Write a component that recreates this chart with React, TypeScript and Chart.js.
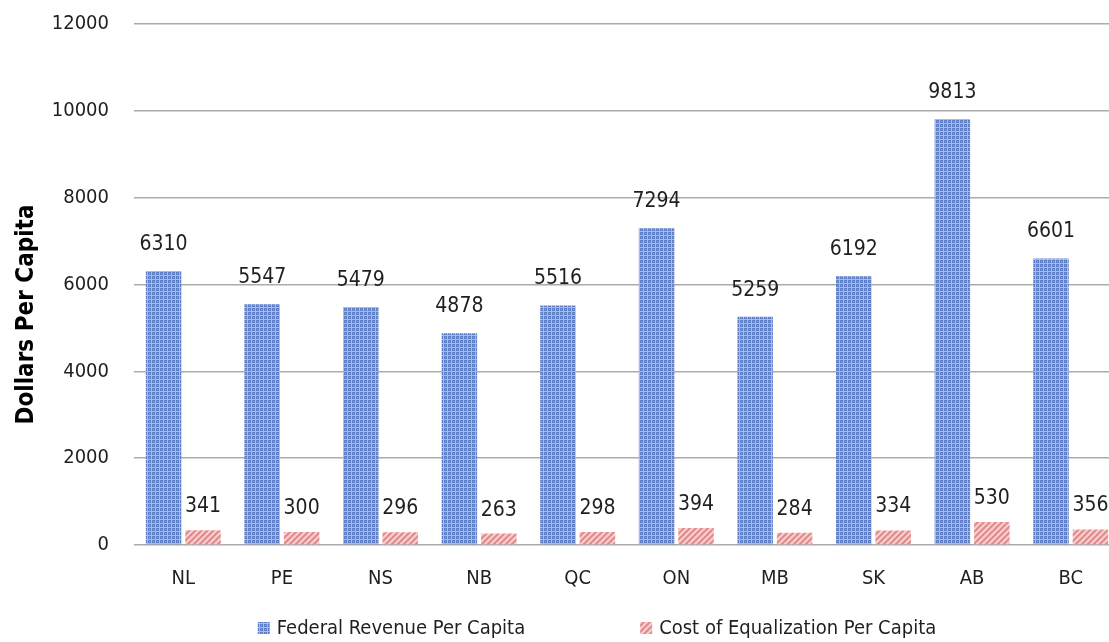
import React, { useEffect, useRef } from "react";
import { Chart, registerables } from "chart.js";

Chart.register(...registerables);

const provinces = ["NL", "PE", "NS", "NB", "QC", "ON", "MB", "SK", "AB", "BC"];
const federalRevenue = [6310, 5547, 5479, 4878, 5516, 7294, 5259, 6192, 9813, 6601];
const equalizationCost = [341, 300, 296, 263, 298, 394, 284, 334, 530, 356];
const seriesNames = ["Federal Revenue Per Capita", "Cost of Equalization Per Capita"];
const yTitle = "Dollars Per Capita";

const FONT = "'Liberation Sans Narrow', 'DejaVu Sans Condensed', 'Open Sans', sans-serif";
const TEXT = "#1f1f1f";

function makeBluePattern(): CanvasPattern | string {
  const c = document.createElement("canvas");
  c.width = 4;
  c.height = 4;
  const g = c.getContext("2d");
  if (!g) return "#6f86c8";
  g.fillStyle = "#c8b0d2";
  g.fillRect(0, 0, 4, 4);
  g.fillStyle = "#5e7fc8";
  g.fillRect(0, 0, 3, 3);
  g.fillStyle = "#8fa2d4";
  g.fillRect(1, 1, 1, 1);
  return g.createPattern(c, "repeat") || "#6f86c8";
}

function makeRedPattern(): CanvasPattern | string {
  const c = document.createElement("canvas");
  const s = 6;
  c.width = s;
  c.height = s;
  const g = c.getContext("2d");
  if (!g) return "#eaa6a6";
  g.fillStyle = "#f6d0d0";
  g.fillRect(0, 0, s, s);
  g.strokeStyle = "#df8a8a";
  g.lineWidth = 2;
  for (let k = -1; k <= 1; k++) {
    g.beginPath();
    g.moveTo(k * s - 1, s + 1);
    g.lineTo(k * s + s + 1, -1);
    g.stroke();
  }
  return g.createPattern(c, "repeat") || "#eaa6a6";
}

const valueLabels = {
  id: "valueLabels",
  afterDatasetsDraw(chart: any) {
    const ctx = chart.ctx;
    ctx.save();
    ctx.font = `21px ${FONT}`;
    ctx.fillStyle = TEXT;
    ctx.textAlign = "center";
    ctx.textBaseline = "bottom";
    chart.data.datasets.forEach((ds: any, di: number) => {
      const meta = chart.getDatasetMeta(di);
      meta.data.forEach((el: any, i: number) => {
        ctx.fillText(String(ds.data[i]), el.x, el.y - (di === 0 ? 16 : 13));
      });
    });
    ctx.restore();
  },
};

const axisTitle = {
  id: "axisTitle",
  afterDraw(chart: any) {
    const ctx = chart.ctx;
    const a = chart.chartArea;
    ctx.save();
    ctx.translate(27, (a.top + a.bottom) / 2 + 30);
    ctx.rotate(-Math.PI / 2);
    ctx.font = `bold 24px ${FONT}`;
    ctx.fillStyle = "#000";
    ctx.textAlign = "center";
    ctx.textBaseline = "middle";
    ctx.fillText(yTitle, 0, 0);
    ctx.restore();
  },
};

const bottomLegend = {
  id: "bottomLegend",
  afterDraw(chart: any) {
    const ctx = chart.ctx;
    ctx.save();
    ctx.font = `20px ${FONT}`;
    ctx.textBaseline = "middle";
    ctx.textAlign = "left";
    const box = 12;
    const boxGap = 7;
    const itemGap = 115;
    const items = chart.data.datasets.map((ds: any) => ({
      label: ds.label,
      fill: ds.backgroundColor,
      w: box + boxGap + ctx.measureText(ds.label).width,
    }));
    const total = items.reduce((a: number, it: any) => a + it.w, 0) + itemGap * (items.length - 1);
    const cx = 597;
    const cy = 628;
    let x = cx - total / 2;
    items.forEach((it: any) => {
      ctx.fillStyle = it.fill;
      ctx.fillRect(x, cy - box / 2, box, box);
      ctx.fillStyle = TEXT;
      ctx.fillText(it.label, x + box + boxGap, cy + 1);
      x += it.w + itemGap;
    });
    ctx.restore();
  },
};

export default function App() {
  const ref = useRef<HTMLCanvasElement | null>(null);

  useEffect(() => {
    if (!ref.current) return;
    const chart = new Chart(ref.current, {
      type: "bar",
      data: {
        labels: provinces,
        datasets: [
          {
            label: seriesNames[0],
            data: federalRevenue,
            backgroundColor: makeBluePattern() as any,
            borderWidth: 0,
          },
          {
            label: seriesNames[1],
            data: equalizationCost,
            backgroundColor: makeRedPattern() as any,
            borderWidth: 0,
          },
        ],
      },
      options: {
        animation: false,
        responsive: false,
        maintainAspectRatio: false,
        layout: { padding: { top: 24, right: 0, bottom: 47, left: 0 } },
        plugins: {
          legend: { display: false },
          tooltip: { enabled: false },
        },
        scales: {
          x: {
            grid: { display: false, drawTicks: false },
            border: { display: false },
            ticks: { color: TEXT, font: { family: FONT, size: 20 }, padding: 22 },
            afterFit(scale: any) {
              scale.height = 50;
              scale.paddingLeft = 0;
              scale.paddingRight = 0;
            },
          },
          y: {
            min: 0,
            max: 12000,
            ticks: {
              stepSize: 2000,
              color: TEXT,
              font: { family: FONT, size: 20 },
              padding: 25,
              callback: (v: any) => String(v),
            },
            grid: { color: "#ababab", lineWidth: 1.5, drawTicks: false },
            border: { display: false },
            title: { display: false },
            afterFit(scale: any) {
              scale.width = 134;
              scale.paddingTop = 0;
              scale.paddingBottom = 0;
            },
          },
        },
      } as any,
      plugins: [valueLabels, axisTitle, bottomLegend],
    });
    return () => chart.destroy();
  }, []);

  return (
    <div
      style={{
        position: "absolute",
        left: 0,
        top: 0,
        width: 1109,
        height: 642,
        overflow: "hidden",
        background: "#fff",
      }}
    >
      <canvas ref={ref} width={1120} height={642} style={{ display: "block", width: 1120, height: 642 }} />
    </div>
  );
}
